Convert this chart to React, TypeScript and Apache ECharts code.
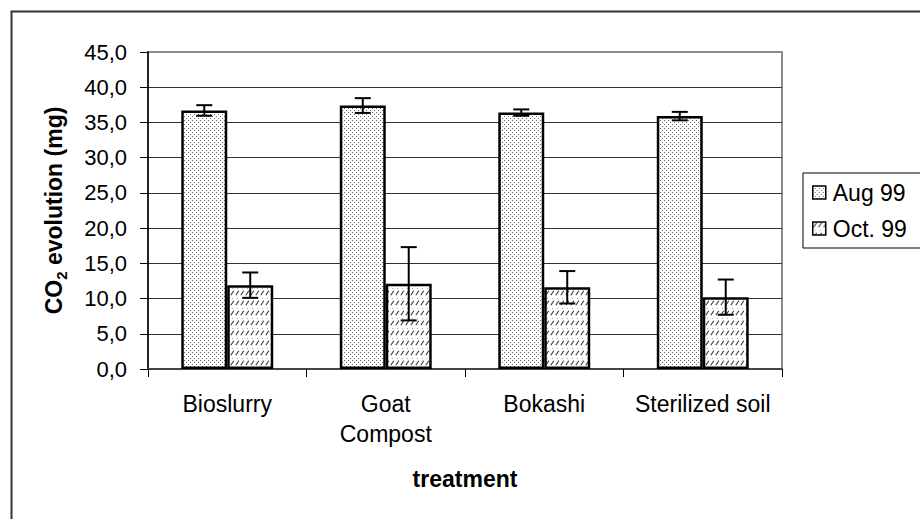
import React, { useEffect, useRef } from "react";
import * as echarts from "echarts";

const categories = ["Bioslurry", "Goat\nCompost", "Bokashi", "Sterilized soil"];
const seriesNames = ["Aug 99", "Oct. 99"];
const augValues = [36.7, 37.4, 36.4, 35.9];
const augErrors = [0.75, 1.05, 0.45, 0.6];
const octValues = [11.9, 12.1, 11.6, 10.2];
const octErrors = [1.8, 5.2, 2.3, 2.5];
const yTicks = { min: 0, max: 45, interval: 5 };

const FONT = "'Liberation Sans', Arial, sans-serif";
const CAT_GAP = 0.42;

function makeDots(): HTMLCanvasElement {
  const c = document.createElement("canvas");
  c.width = 4;
  c.height = 4;
  const ctx = c.getContext("2d")!;
  ctx.fillStyle = "#ffffff";
  ctx.fillRect(0, 0, 4, 4);
  ctx.fillStyle = "#666666";
  ctx.fillRect(0, 0, 1, 1);
  ctx.fillRect(2, 2, 1, 1);
  return c;
}

function makeHatch(): HTMLCanvasElement {
  const c = document.createElement("canvas");
  c.width = 5;
  c.height = 10;
  const ctx = c.getContext("2d")!;
  ctx.fillStyle = "#ffffff";
  ctx.fillRect(0, 0, 5, 10);
  ctx.strokeStyle = "#333333";
  ctx.lineWidth = 1.1;
  ctx.beginPath();
  ctx.moveTo(0.8, 5.2);
  ctx.lineTo(3.8, 0.8);
  ctx.stroke();
  ctx.fillStyle = "#aaaaaa";
  ctx.fillRect(2, 8, 1, 1);
  return c;
}

export default function App() {
  const ref = useRef<HTMLDivElement>(null);

  useEffect(() => {
    if (!ref.current) return;
    const chart = echarts.init(ref.current, null, { renderer: "svg" });
    const dots = { image: makeDots(), repeat: "repeat" };
    const hatch = { image: makeHatch(), repeat: "repeat" };

    const errData = (vals: number[], errs: number[]) =>
      vals.map((v, i) => [i, v, errs[i]]);

    const makeErrSeries = (name: string, vals: number[], errs: number[], side: number) => ({
      type: "custom",
      name: name + " error",
      z: 10,
      silent: true,
      data: errData(vals, errs),
      renderItem: (params: any, api: any) => {
        const idx = api.value(0);
        const v = api.value(1);
        const e = api.value(2);
        const base = api.coord([idx, v]);
        const bandW = api.size([1, 0])[0];
        const barW = (bandW * (1 - CAT_GAP)) / 2;
        const cx = base[0] + side * (barW / 2);
        const top = api.coord([idx, v + e])[1];
        const bot = api.coord([idx, v - e])[1];
        const hw = 8;
        const style = { stroke: "#000", lineWidth: 2 };
        return {
          type: "group",
          children: [
            { type: "line", shape: { x1: cx, y1: top, x2: cx, y2: bot }, style },
            { type: "line", shape: { x1: cx - hw, y1: top, x2: cx + hw, y2: top }, style },
            { type: "line", shape: { x1: cx - hw, y1: bot, x2: cx + hw, y2: bot }, style },
          ],
        };
      },
    });

    const option: any = {
      animation: false,
      backgroundColor: "#ffffff",
      textStyle: { fontFamily: FONT },
      grid: {
        left: 148,
        top: 52,
        right: 138,
        bottom: 150,
        show: true,
        borderColor: "#8c8c8c",
        borderWidth: 2,
        backgroundColor: "transparent",
      },
      legend: {
        orient: "vertical",
        left: 803,
        top: 173,
        data: seriesNames,
        icon: "rect",
        itemWidth: 13,
        itemHeight: 13,
        itemGap: 13,
        padding: [8, 40, 8, 9],
        borderColor: "#000",
        borderWidth: 1,
        backgroundColor: "#fff",
        textStyle: { fontFamily: FONT, fontSize: 23, color: "#000", padding: [0, 0, 0, 2] },
        itemStyle: { borderColor: "#000", borderWidth: 1.5 },
      },
      xAxis: {
        type: "category",
        data: categories,
        name: "treatment",
        nameLocation: "middle",
        nameGap: 98,
        nameTextStyle: { fontFamily: FONT, fontSize: 23, fontWeight: "bold", color: "#000" },
        axisLine: { show: true, lineStyle: { color: "#444", width: 2 } },
        axisTick: { show: true, length: 8, lineStyle: { color: "#000", width: 1 } },
        axisLabel: {
          fontFamily: FONT,
          fontSize: 23,
          color: "#000",
          margin: 20,
          lineHeight: 30,
          interval: 0,
        },
        splitLine: { show: false },
      },
      yAxis: {
        type: "value",
        min: yTicks.min,
        max: yTicks.max,
        interval: yTicks.interval,
        name: "{b|CO}{sub|2}{b| evolution (mg)}",
        nameLocation: "middle",
        nameGap: 79,
        nameRotate: 90,
        nameTextStyle: {
          rich: {
            b: { fontFamily: FONT, fontSize: 23, fontWeight: "bold", color: "#000", lineHeight: 30, verticalAlign: "middle" },
            sub: { fontFamily: FONT, fontSize: 15, fontWeight: "bold", color: "#000", lineHeight: 16, verticalAlign: "bottom" },
          },
        },
        axisLine: { show: true, lineStyle: { color: "#000", width: 1.5 } },
        axisTick: { show: true, length: 8, lineStyle: { color: "#000", width: 1 } },
        axisLabel: {
          fontFamily: FONT,
          fontSize: 22,
          color: "#000",
          margin: 21,
          formatter: (v: number) => v.toFixed(1).replace(".", ","),
        },
        splitLine: { show: true, showMaxLine: false, showMinLine: false, lineStyle: { color: "#333", width: 1 } },
      },
      series: [
        {
          type: "bar",
          name: seriesNames[0],
          data: augValues,
          barGap: "0%",
          barCategoryGap: CAT_GAP * 100 + "%",
          itemStyle: { color: dots, borderColor: "#000", borderWidth: 2.5 },
          z: 3,
        },
        {
          type: "bar",
          name: seriesNames[1],
          data: octValues,
          barGap: "0%",
          barCategoryGap: CAT_GAP * 100 + "%",
          itemStyle: { color: hatch, borderColor: "#000", borderWidth: 2.5 },
          z: 3,
        },
        makeErrSeries(seriesNames[0], augValues, augErrors, -1),
        makeErrSeries(seriesNames[1], octValues, octErrors, 1),
      ],
      graphic: [
        {
          type: "rect",
          left: 9,
          top: 9,
          shape: { x: 0, y: 0, width: 1000, height: 1000 },
          style: { fill: "none", stroke: "#333", lineWidth: 2 },
          silent: true,
          z: -1,
        },
      ],
    };
    chart.setOption(option);
    return () => chart.dispose();
  }, []);

  return (
    <div
      ref={ref}
      style={{ position: "fixed", left: 0, top: 0, width: 920, height: 519, background: "#fff" }}
    />
  );
}
